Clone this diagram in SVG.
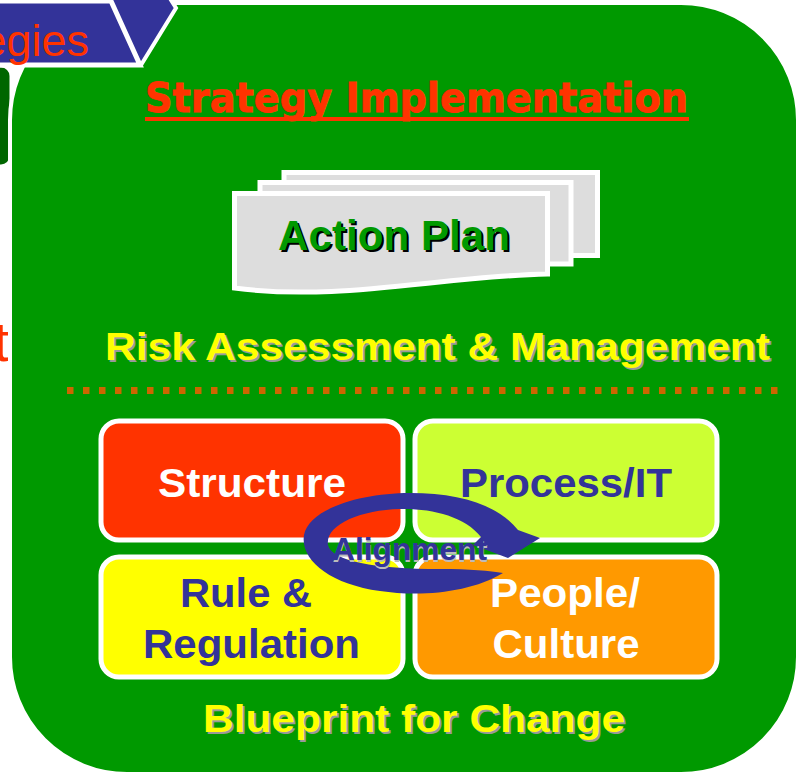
<svg xmlns="http://www.w3.org/2000/svg" width="796" height="773" viewBox="0 0 796 773">
<style>
.ar{font-family:"Liberation Sans",Arial,sans-serif;font-weight:bold;}
.blue{fill:#333399;}
.wht{fill:#FFFFFF;}
.yel{fill:#FFFF00;}
.shd{fill:#999999;}
.box{stroke:#FFFFFF;stroke-width:5;}
.doc{fill:#DDDDDD;stroke:#FFFFFF;stroke-width:5;}
</style>
<rect width="796" height="773" fill="#FFFFFF"/>
<g id="left-fragment">
  <rect x="-60" y="66" width="71" height="100" rx="10" fill="#006600" stroke="#FFFFFF" stroke-width="3"/>
  <text x="9" y="361" text-anchor="end" font-family="Liberation Sans, Arial, sans-serif" font-size="56" fill="#FF3300">t</text>
</g>
<g id="main-panel">
  <rect x="10" y="3" width="788" height="771" rx="117" fill="#009900" stroke="#FFFFFF" stroke-width="4"/>
</g>
<g id="banner">
  <polygon points="90,-8 166,-8 176,8 141,65 90,65" fill="#333399" stroke="#FFFFFF" stroke-width="4"/>
  <polygon points="-10,1 111,1 140,65 -10,65" fill="#333399" stroke="#FFFFFF" stroke-width="5"/>
  <text x="89" y="56" text-anchor="end" font-family="Liberation Sans, Arial, sans-serif" font-size="45" fill="#FF3300">Strategies</text>
</g>
<g id="title">
  <text x="145" y="112" font-family="DejaVu Sans, Verdana, sans-serif" font-weight="bold" font-size="40" fill="#FF3300" stroke="#FF3300" stroke-width="0.8" textLength="543" lengthAdjust="spacingAndGlyphs">Strategy Implementation</text>
  <rect x="145" y="117" width="544" height="4" fill="#FF3300"/>
</g>
<g id="action-plan">
  <rect class="doc" x="284" y="172.5" width="313.5" height="83"/>
  <rect class="doc" x="260" y="182.5" width="311" height="81.5"/>
  <path class="doc" d="M234.5,193.5 H547.5 V274 C440,276 340,302 234.5,288 Z"/>
  <text class="ar" x="396" y="252" text-anchor="middle" font-size="42" fill="#000000" textLength="232" lengthAdjust="spacingAndGlyphs">Action Plan</text>
  <text class="ar" x="394" y="250" text-anchor="middle" font-size="42" fill="#009900" textLength="232" lengthAdjust="spacingAndGlyphs">Action Plan</text>
</g>
<g id="risk">
  <text class="ar shd" x="439.5" y="362" text-anchor="middle" font-size="39" textLength="665" lengthAdjust="spacingAndGlyphs">Risk Assessment &amp; Management</text>
  <text class="ar yel" x="437.5" y="360" text-anchor="middle" font-size="39" textLength="665" lengthAdjust="spacingAndGlyphs">Risk Assessment &amp; Management</text>
</g>
<g id="divider">
  <line x1="67" y1="390.5" x2="782" y2="390.5" stroke="#CC6600" stroke-width="7" stroke-dasharray="6.5 9.5"/>
</g>
<g id="structure">
  <rect class="box" x="101" y="421" width="302" height="119" rx="18" fill="#FF3300"/>
  <text class="ar wht" x="252" y="497" text-anchor="middle" font-size="40" textLength="188" lengthAdjust="spacingAndGlyphs">Structure</text>
</g>
<g id="process-it">
  <rect class="box" x="415" y="421" width="302" height="119" rx="18" fill="#CCFF33"/>
  <text class="ar blue" x="566" y="497" text-anchor="middle" font-size="40" textLength="212" lengthAdjust="spacingAndGlyphs">Process/IT</text>
</g>
<g id="rule-regulation">
  <rect class="box" x="101" y="557" width="302" height="120" rx="18" fill="#FFFF00"/>
  <text class="ar blue" x="246" y="607" text-anchor="middle" font-size="40" textLength="132" lengthAdjust="spacingAndGlyphs">Rule &amp;</text>
  <text class="ar blue" x="251.5" y="658" text-anchor="middle" font-size="40" textLength="217" lengthAdjust="spacingAndGlyphs">Regulation</text>
</g>
<g id="people-culture">
  <rect class="box" x="415" y="557" width="302" height="120" rx="18" fill="#FF9900"/>
  <text class="ar wht" x="565" y="607" text-anchor="middle" font-size="40" textLength="150" lengthAdjust="spacingAndGlyphs">People/</text>
  <text class="ar wht" x="566" y="658" text-anchor="middle" font-size="40" textLength="147" lengthAdjust="spacingAndGlyphs">Culture</text>
</g>
<g id="connectors">
  <path d="M503,573 C470,593 420,597 380,591 C330,584 300,560 304,535 C309,509 360,493 410,493 C460,493 498,505 518,530 L540,538 L508,558 L473,545 L481,537 C465,516 430,508 400,509 C360,510 325,525 328,545 C332,561 375,569 440,569 C470,569 490,571 503,573 Z" fill="#333399"/>
</g>
<g id="alignment-label">
  <text class="ar" x="410" y="561.5" text-anchor="middle" font-size="31" fill="#BBBBBB" textLength="155" lengthAdjust="spacingAndGlyphs">Alignment</text>
  <text class="ar blue" x="409.5" y="560" text-anchor="middle" font-size="31" textLength="155" lengthAdjust="spacingAndGlyphs">Alignment</text>
</g>
<g id="blueprint">
  <text class="ar shd" x="416" y="734" text-anchor="middle" font-size="39" textLength="422" lengthAdjust="spacingAndGlyphs">Blueprint for Change</text>
  <text class="ar yel" x="414" y="732" text-anchor="middle" font-size="39" textLength="422" lengthAdjust="spacingAndGlyphs">Blueprint for Change</text>
</g>
</svg>
